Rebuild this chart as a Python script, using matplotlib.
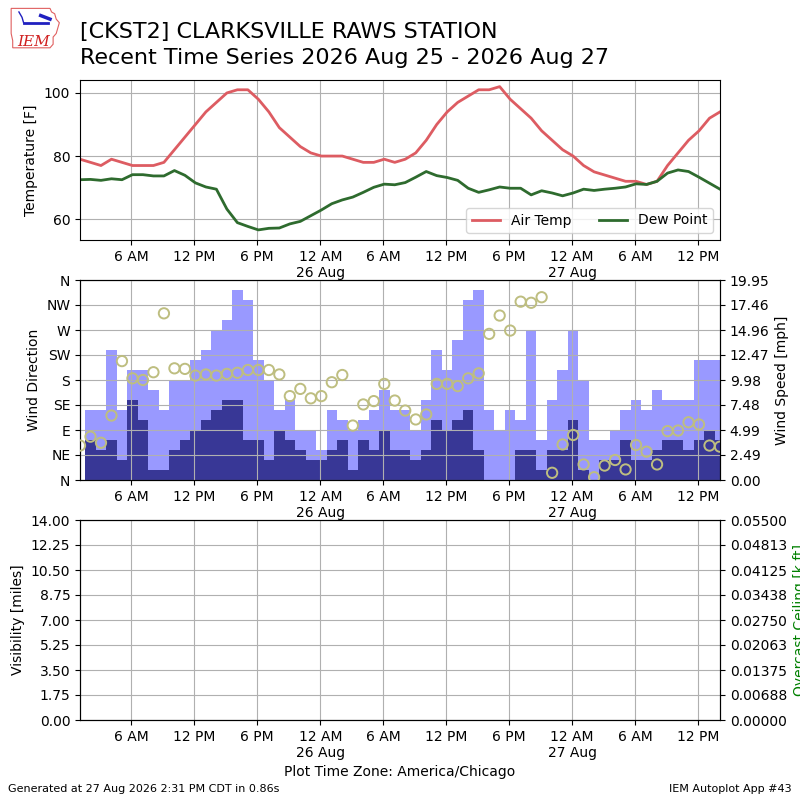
import datetime
import matplotlib
matplotlib.use("Agg")
import matplotlib.pyplot as plt
import matplotlib.dates as mdates
from matplotlib.ticker import FuncFormatter, FixedLocator
from matplotlib.patches import Polygon

# ---------------- data ----------------
start = datetime.datetime(2026, 8, 25, 1, 6)
n_obs = 62
times = [start + datetime.timedelta(hours=i) for i in range(n_obs)]

air_temp = [79, 78, 77, 79, 78, 77, 77, 77, 78, 82, 86, 90, 94, 97, 100, 101,
            101, 98, 94, 89, 86, 83, 81, 80, 80, 80, 79, 78, 78, 79, 78, 79,
            81, 85, 90, 94, 97, 99, 101, 101, 102, 98, 95, 92, 88, 85, 82, 80,
            77, 75, 74, 73, 72, 72, 71, 72, 77, 81, 85, 88, 92, 94]

dew_point = [72.5, 72.6, 72.3, 72.8, 72.5, 74.1, 74.1, 73.7, 73.7, 75.4, 73.9,
             71.5, 70.2, 69.5, 63.2, 58.9, 57.7, 56.6, 57.1, 57.2, 58.5, 59.3,
             61.1, 62.9, 64.9, 66.1, 67.0, 68.5, 70.1, 71.1, 70.9, 71.6, 73.3,
             75.1, 73.8, 73.2, 72.3, 69.8, 68.5, 69.3, 70.2, 69.8, 69.8, 67.7,
             69.0, 68.3, 67.4, 68.3, 69.5, 69.1, 69.5, 69.8, 70.2, 71.2, 71.0,
             72.0, 74.6, 75.6, 75.1, 73.3, 71.4, 69.5]

wind_dir = [62, 78, 67, 116, 214, 183, 180, 194, 300, 201, 200, 188, 190, 188,
            191, 193, 198, 198, 198, 190, 151, 164, 147, 151, 176, 189, 98, 136,
            142, 173, 143, 125, 109, 118, 173, 173, 169, 183, 192, 263, 296, 269,
            321, 319, 329, 13, 64, 81, 28, 5, 26, 36, 19, 63, 51, 28, 88, 89,
            104, 100, 62, 60]

wind_speed = [0, 4, 3, 4, 2, 8, 6, 1, 1, 3, 4, 5, 6, 7, 8, 8, 4, 4, 2, 5, 4, 3,
              2, 2, 3, 4, 1, 4, 3, 5, 3, 3, 2, 3, 6, 5, 6, 7, 3, 0, 0, 0, 3, 3,
              1, 3, 3, 6, 1, 0, 2, 2, 4, 2, 2, 3, 4, 4, 3, 4, 5, 4]

wind_gust = [0, 7, 7, 13, 7, 11, 11, 9, 7, 10, 10, 12, 13, 15, 16, 19, 18, 12,
             10, 7, 8, 5, 5, 3, 7, 6, 5, 6, 7, 9, 7, 7, 5, 8, 13, 11, 14, 18,
             19, 7, 5, 7, 6, 15, 4, 8, 11, 15, 10, 4, 4, 5, 7, 8, 7, 9, 8, 8,
             8, 12, 12, 12]

dir_labels = ["N", "NE", "E", "SE", "S", "SW", "W", "NW", "N"]

# ---------------- helpers ----------------
def time_fmt(x, pos=None):
    d = mdates.num2date(x)
    h = d.hour
    if h == 0:
        return "12 AM\n%d %s" % (d.day, d.strftime("%b"))
    if h == 12:
        return "12 PM"
    if h < 12:
        return "%d AM" % h
    return "%d PM" % (h - 12)


def setup_xaxis(ax):
    ax.xaxis.set_major_locator(mdates.HourLocator(byhour=[0, 6, 12, 18]))
    ax.xaxis.set_major_formatter(FuncFormatter(time_fmt))
    ax.set_xlim(times[0], times[-1])
    ax.grid(True)


fig = plt.figure(figsize=(8, 8), dpi=100)

# ---------------- titles ----------------
fig.text(0.1, 0.953, "[CKST2] CLARKSVILLE RAWS STATION",
         fontsize=16, va="baseline", ha="left")
fig.text(0.1, 0.9206, "Recent Time Series 2026 Aug 25 - 2026 Aug 27",
         fontsize=16, va="baseline", ha="left")
fig.text(0.01, 0.01, "Generated at 27 Aug 2026 2:31 PM CDT in 0.86s", fontsize=8, ha="left")
fig.text(0.99, 0.01, "IEM Autoplot App #43", fontsize=8, ha="right")

# ---------------- logo ----------------
lax = fig.add_axes([0.012, 0.938, 0.068, 0.056])
lax.set_xlim(0, 70)
lax.set_ylim(0, 50)
lax.axis("off")
iowa = [(2, 46), (52, 46), (54, 42), (58, 40), (60, 34), (64, 30), (62, 24),
        (60, 18), (56, 14), (56, 6), (52, 2), (4, 2), (4, 10), (2, 18), (2, 46)]
lax.add_patch(Polygon(iowa, closed=True, fill=False, edgecolor="#e06060", lw=0.8))
lax.plot([18, 50], [30, 30], color="#2020c0", lw=2)
lax.plot([40, 52], [38, 34], color="#2020c0", lw=2.5)
lax.plot([12, 16, 18], [42, 36, 30], color="#2020c0", lw=1)
lax.text(10, 4, "IEM", color="#d02020", fontsize=11, family="DejaVu Serif",
         style="italic")

# ---------------- temperature panel ----------------
ax1 = fig.add_axes([0.1, 0.7, 0.8, 0.2])
ax1.plot(times, air_temp, color="#dd5c62", lw=2, label="Air Temp")
ax1.plot(times, dew_point, color="#2e6b2e", lw=2, label="Dew Point")
ax1.set_ylim(53.4, 104.1)
ax1.set_yticks([60, 80, 100])
ax1.set_ylabel("Temperature [F]")
setup_xaxis(ax1)
ax1.legend(loc="lower right", ncol=2)

# ---------------- wind panel ----------------
ax2 = fig.add_axes([0.1, 0.4, 0.8, 0.25])
ax2b = ax2.twinx()
ax2b.bar(times, wind_gust, width=1 / 24.0, color="#9999ff", align="center")
ax2b.bar(times, wind_speed, width=1 / 24.0, color="#383796", align="center")
smax = max(wind_gust) * 1.05
ax2b.set_ylim(0, smax)
ax2b.yaxis.set_major_locator(FixedLocator([smax * k / 8.0 for k in range(9)]))
ax2b.yaxis.set_major_formatter(FuncFormatter(lambda v, p: "%.2f" % (v + 1e-6)))
ax2b.set_ylabel("Wind Speed [mph]")

ax2.set_zorder(ax2b.get_zorder() + 1)
ax2.patch.set_visible(False)
ax2.scatter(times, wind_dir, s=55, facecolor="none", edgecolor="#bebe80", lw=1.4, zorder=3)
ax2.set_ylim(0, 360)
ax2.set_yticks(range(0, 361, 45))
ax2.set_yticklabels(dir_labels)
ax2.set_ylabel("Wind Direction")
setup_xaxis(ax2)

# ---------------- visibility panel ----------------
ax3 = fig.add_axes([0.1, 0.1, 0.8, 0.25])
ax3.set_ylim(0, 14)
ax3.yaxis.set_major_locator(FixedLocator([1.75 * k for k in range(9)]))
ax3.yaxis.set_major_formatter(FuncFormatter(lambda v, p: "%.2f" % v))
ax3.set_ylabel("Visibility [miles]")
setup_xaxis(ax3)
ax3.set_xlabel("Plot Time Zone: America/Chicago")
ax3b = ax3.twinx()
ax3b.set_ylim(0, 0.055)
ax3b.yaxis.set_major_locator(FixedLocator([0.055 * k / 8.0 for k in range(9)]))
ax3b.yaxis.set_major_formatter(FuncFormatter(lambda v, p: "%.5f" % (v + 1e-9)))
ax3b.set_ylabel("Overcast Ceiling [k ft]", color="g")

fig.savefig("out.png", dpi=100)
